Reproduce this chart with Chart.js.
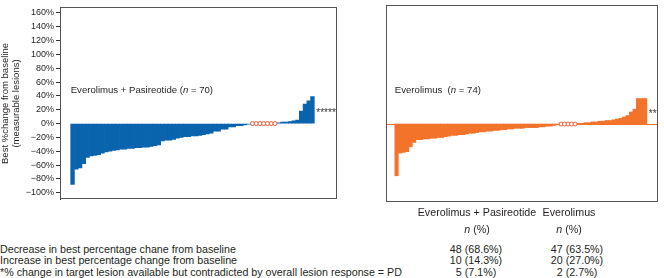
<!DOCTYPE html>
<html>
<head>
<meta charset="utf-8">
<script src="https://cdn.jsdelivr.net/npm/chart.js@4.4.1/dist/chart.umd.min.js"></script>
<style>
  body { margin: 0; background: #fff; font-family: "Liberation Sans", Arial, sans-serif; color: #231f20; }
  #wrap { position: relative; width: 664px; height: 278px; overflow: hidden; }
  #comboChart { position: absolute; left: 0; top: 0; }
  #everoChart { position: absolute; left: 381px; top: 0; }
  .t { position: absolute; font-size: 10.7px; line-height: 12px; white-space: nowrap; }
  .c { text-align: center; width: 120px; }
</style>
</head>
<body>
<div id="wrap">
  <canvas id="comboChart" width="345" height="207"></canvas>
  <canvas id="everoChart" width="283" height="207"></canvas>
  <div id="table"></div>
</div>
<script>
// y axis ticks (%)
const yTicks = [160, 140, 120, 100, 80, 60, 40, 20, 0, -20, -40, -60, -80, -100];

// Everolimus + Pasireotide, best % change per patient (sorted)
const comboChange = [-88, -66, -64, -58, -49, -47, -46, -45, -43, -41, -40, -39, -38, -37, -37, -36,
  -36, -35, -35, -34, -34, -33, -32, -31, -25, -24, -24, -23, -21, -20, -19, -19, -18, -18, -17, -16,
  -15, -14, -11, -11, -8, -8, -5, -5, -3, -3, -2, -1, 0, 0, 0, 0, 0, 0, 0,
  1, 2, 2, 3, 4, 5, 18, 28, 33, 39];

// Everolimus alone
const everoChange = [-73, -41, -40, -39, -32, -26, -22, -22, -21, -21, -20, -20, -19, -19, -18, -17,
  -16, -16, -15, -15, -14, -13, -13, -12, -11, -11, -10, -10, -9, -9, -8, -8, -7, -7, -6, -6, -6,
  -5, -5, -5, -5, -4, -4, -3, -3, -2, -1, 0, 0, 0, 0, 0,
  1, 1, 2, 2, 3, 3, 4, 4, 5, 5, 6, 7, 8, 10, 12, 17, 21, 36, 36, 36];

const armNames = ['Everolimus + Pasireotide', 'Everolimus'];
const armN = [70, 74];
const armPD = [5, 2]; // shown as asterisks

// table below the charts
const rowLabels = [
  'Decrease in best percentage chane from baseline',
  'Increase in best percentage change from baseline',
  '*% change in target lesion available but contradicted by overall lesion response = PD'
];
const comboCounts = ['48 (68.6%)', '10 (14.3%)', '5 (7.1%)'];
const everoCounts = ['47 (63.5%)', '20 (27.0%)', '2 (2.7%)'];

const BLUE = '#0a64ad';
const ORANGE = '#f4732b';
const CIRCLE = '#ee5a36';
const FONT = '"Liberation Sans", Arial, sans-serif';

// frame, zero line, panel label and asterisks
const panelDecor = {
  id: 'panelDecor',
  beforeDatasetsDraw(chart, args, o) {
    if (!o.zeroLine) return;
    const { ctx, chartArea: a, scales: { y } } = chart;
    const y0 = Math.round(y.getPixelForValue(0)) + 0.5;
    ctx.save();
    ctx.strokeStyle = o.zeroLine;
    ctx.lineWidth = 1;
    ctx.beginPath();
    ctx.moveTo(a.left, y0);
    ctx.lineTo(a.right, y0);
    ctx.stroke();
    ctx.restore();
  },
  afterDraw(chart, args, o) {
    const { ctx, chartArea: a, scales: { x, y } } = chart;
    ctx.save();
    ctx.strokeStyle = '#555';
    ctx.lineWidth = 1;
    ctx.strokeRect(Math.round(a.left) + 0.5, Math.round(a.top) + 0.5,
      Math.round(a.width) - 1, Math.round(a.height) - 1);

    // label "Name (n = N)" with italic n
    const parts = [[o.name + (o.gap || ' ') + '(', ''], ['n', 'italic '], [' = ' + o.n + ')', '']];
    let lx = x.getPixelForValue(0.5);
    ctx.fillStyle = '#231f20';
    ctx.textBaseline = 'alphabetic';
    parts.forEach(([txt, st]) => {
      ctx.font = st + '9.6px ' + FONT;
      ctx.fillText(txt, lx, 93);
      lx += ctx.measureText(txt).width;
    });

    // asterisks after the last bar
    const last = o.values.length;
    ctx.font = '10px ' + FONT;
    ctx.textBaseline = 'middle';
    ctx.fillStyle = '#333';
    ctx.fillText('*'.repeat(o.pd), x.getPixelForValue(last + 0.5) + 2,
      y.getPixelForValue(o.values[last - 1] / 2) + 3);
    ctx.restore();
  }
};

function makeWaterfall(id, values, color, opt) {
  const bars = values.map((v, i) => ({ x: i + 1, y: v }));
  const zeros = values.map((v, i) => ({ x: i + 1, y: v })).filter(p => p.y === 0);
  return new Chart(document.getElementById(id), {
    type: 'bar',
    data: {
      datasets: [{
        type: 'bar',
        data: bars,
        backgroundColor: color,
        borderWidth: 0,
        categoryPercentage: 1,
        barPercentage: 1,
        grouped: false,
        order: 2
      }, {
        type: 'scatter',
        data: zeros,
        pointRadius: 2,
        pointBorderWidth: 1,
        pointBackgroundColor: '#fff',
        pointBorderColor: CIRCLE,
        order: 1
      }]
    },
    options: {
      responsive: false,
      animation: false,
      layout: { padding: opt.padding },
      plugins: {
        legend: { display: false },
        tooltip: { enabled: false },
        panelDecor: {
          name: opt.name, gap: opt.gap, n: opt.n, pd: opt.pd, values,
          zeroLine: opt.zeroLine
        }
      },
      scales: {
        x: { type: 'linear', min: opt.xMin, max: opt.xMax, offset: false, display: false },
        y: {
          min: -110, max: 168,
          display: opt.showAxis,
          afterBuildTicks: s => { s.ticks = yTicks.map(v => ({ value: v })); },
          afterFit: s => { s.width = opt.showAxis ? 60 : 0; },
          grid: { drawOnChartArea: false, drawTicks: true, tickLength: 4, color: '#333' },
          border: { display: true, color: '#333' },
          ticks: {
            padding: 2,
            color: '#231f20',
            font: { family: FONT, size: 9 },
            callback: v => (v < 0 ? '\u2212' + Math.abs(v) : v) + '%'
          },
          title: {
            display: true,
            text: ['Best %change from baseline', '(measurable lesions)'],
            color: '#231f20',
            font: { family: FONT, size: 9.5, lineHeight: 1.15 },
            padding: { top: 0, bottom: 0 }
          }
        }
      }
    },
    plugins: [panelDecor]
  });
}

makeWaterfall('comboChart', comboChange, BLUE, {
  name: armNames[0], n: armN[0], pd: armPD[0],
  xMin: -2.35, xMax: 71.55, showAxis: true,
  padding: { top: 0, right: 8, bottom: 1, left: 0 }
});

makeWaterfall('everoChart', everoChange, ORANGE, {
  name: armNames[1], gap: '  ', n: armN[1], pd: armPD[1],
  xMin: -2.02, xMax: 75.68, showAxis: false, zeroLine: ORANGE,
  padding: { top: 0, right: 6, bottom: 1, left: 0 }
});

// table
const table = document.getElementById('table');
function addText(html, left, top, cls) {
  const d = document.createElement('div');
  d.className = 't' + (cls ? ' ' + cls : '');
  d.style.left = left + 'px';
  d.style.top = top + 'px';
  d.innerHTML = html;
  table.appendChild(d);
}
const colCenters = [477, 569];
addText(armNames[0], colCenters[0] - 60, 206, 'c');
addText(armNames[1], colCenters[1] - 60, 206, 'c');
addText('<i>n</i> (%)', colCenters[0] - 60, 223, 'c');
addText('<i>n</i> (%)', colCenters[1] - 60, 223, 'c');
rowLabels.forEach((lbl, i) => {
  const top = 242.5 + i * 11.5;
  addText(lbl, 0, top);
  addText(comboCounts[i], colCenters[0] - 60 - 1, top, 'c');
  addText(everoCounts[i], colCenters[1] - 60 + 8, top, 'c');
});
</script>
</body>
</html>
